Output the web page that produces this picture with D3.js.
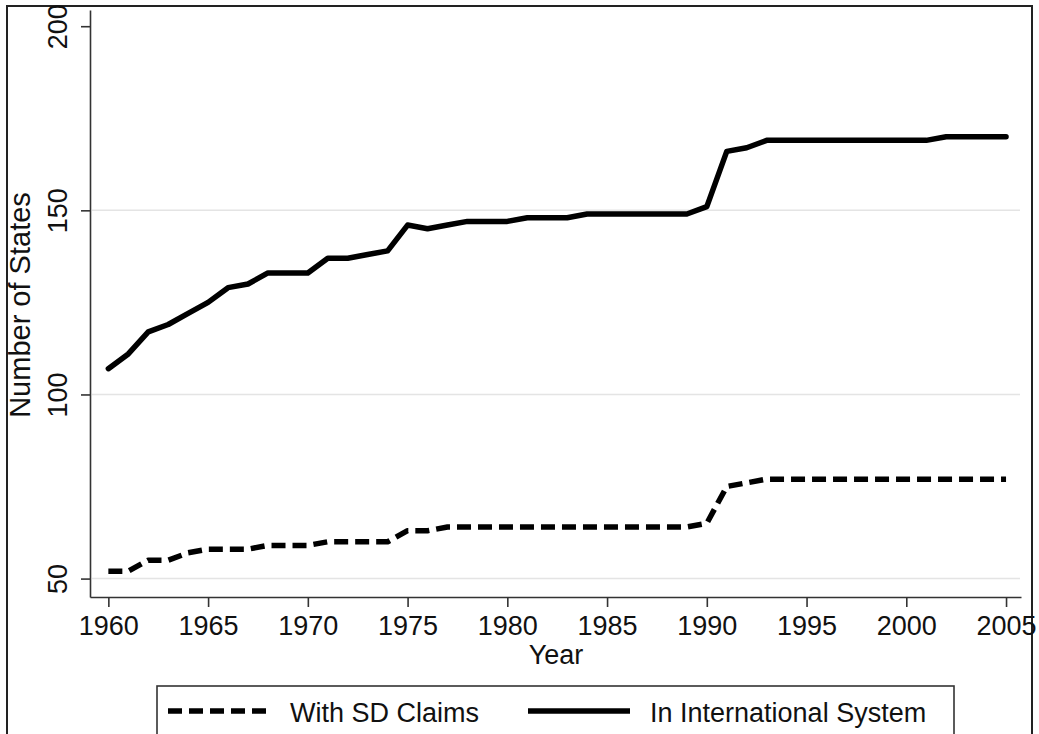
<!DOCTYPE html>
<html>
<head>
<meta charset="utf-8">
<script src="https://cdn.jsdelivr.net/npm/d3@7"></script>
<style>
  html, body { margin: 0; padding: 0; background: #fff; }
  svg { display: block; }
  text { font-family: "Liberation Sans", Arial, Helvetica, sans-serif; fill: #111; }
</style>
</head>
<body>
<svg id="chart" width="1039" height="734"></svg>
<script>
// ---- data ----
const years = d3.range(1960, 2006);
const inSystem = [107,111,117,119,122,125,129,130,133,133,
                  133,137,137,138,139,146,145,146,147,147,
                  147,148,148,148,149,149,149,149,149,149,
                  151,166,167,169,169,169,169,169,169,169,
                  169,169,170,170,170,170];
const withSD = [52,52,55,55,57,58,58,58,59,59,
                59,60,60,60,60,63,63,64,64,64,
                64,64,64,64,64,64,64,64,64,64,
                65,75,76,77,77,77,77,77,77,77,
                77,77,77,77,77,77];
const xTicks = [1960,1965,1970,1975,1980,1985,1990,1995,2000,2005];
const yTicks = [50,100,150,200];
const gridValues = [50,100,150];
const seriesNames = ["With SD Claims", "In International System"];
const xTitle = "Year";
const yTitle = "Number of States";

// ---- layout ----
const svg = d3.select("#chart");
const pLeft = 90, pRight = 1021, pTop = 10, pBottom = 597;
const fs = 27;

const x = d3.scaleLinear().domain([1959.08, 2005.75]).range([pLeft, pRight]);
const y = d3.scaleLinear().domain([45, 204.4]).range([pBottom, pTop]);

// outer frame
svg.append("rect")
  .attr("x", 7).attr("y", 6).attr("width", 1025).attr("height", 760)
  .attr("fill", "#fff").attr("stroke", "#222").attr("stroke-width", 2);

// gridlines
svg.append("g").selectAll("line").data(gridValues).join("line")
  .attr("x1", pLeft + 2).attr("x2", pRight - 1)
  .attr("y1", d => y(d)).attr("y2", d => y(d))
  .attr("stroke", "#e4e4e4").attr("stroke-width", 1.5);

// axes
const xAxis = d3.axisBottom(x).tickValues(xTicks).tickFormat(d3.format("d"))
  .tickSizeInner(10).tickSizeOuter(0).tickPadding(10);
const gx = svg.append("g").attr("transform", `translate(0,${pBottom})`).call(xAxis);
gx.select(".domain").attr("stroke", "#333").attr("stroke-width", 1.6);
gx.selectAll(".tick line").attr("stroke", "#333").attr("stroke-width", 1.6);
gx.selectAll(".tick text")
  .attr("font-size", fs).attr("font-family", "Liberation Sans, Arial, sans-serif")
  .attr("fill", "#111").attr("dy", null).attr("y", 38);

const yAxis = d3.axisLeft(y).tickValues(yTicks).tickFormat(d3.format("d"))
  .tickSizeInner(9).tickSizeOuter(0);
const gy = svg.append("g").attr("transform", `translate(${pLeft},0)`).call(yAxis);
gy.select(".domain").attr("stroke", "#333").attr("stroke-width", 1.6);
gy.selectAll(".tick line").attr("stroke", "#333").attr("stroke-width", 1.6);
gy.selectAll(".tick text")
  .attr("font-size", fs).attr("font-family", "Liberation Sans, Arial, sans-serif")
  .attr("fill", "#111")
  .attr("x", null).attr("dy", null)
  .attr("text-anchor", "middle")
  .attr("transform", "translate(-23,0) rotate(-90)");

// axis titles
svg.append("text")
  .attr("x", 556).attr("y", 664)
  .attr("text-anchor", "middle").attr("font-size", fs)
  .text(xTitle);
svg.append("text")
  .attr("transform", `translate(30,305) rotate(-90)`)
  .attr("text-anchor", "middle").attr("font-size", 29)
  .text(yTitle);

// lines
const line = d3.line().x((d, i) => x(years[i])).y(d => y(d));
svg.append("path").datum(withSD)
  .attr("d", line).attr("fill", "none").attr("stroke", "#000")
  .attr("stroke-width", 5.5).attr("stroke-dasharray", "14,7")
  .attr("stroke-linejoin", "round");
svg.append("path").datum(inSystem)
  .attr("d", line).attr("fill", "none").attr("stroke", "#000")
  .attr("stroke-width", 5.5).attr("stroke-linejoin", "round").attr("stroke-linecap", "round");

// legend
const lg = svg.append("g");
lg.append("rect").attr("x", 157).attr("y", 686).attr("width", 797).attr("height", 80)
  .attr("fill", "#fff").attr("stroke", "#333").attr("stroke-width", 1.6);
lg.append("line").attr("x1", 168).attr("x2", 268).attr("y1", 711).attr("y2", 711)
  .attr("stroke", "#000").attr("stroke-width", 5.5).attr("stroke-dasharray", "14,7");
lg.append("text").attr("x", 290).attr("y", 722).attr("font-size", fs).text(seriesNames[0]);
lg.append("line").attr("x1", 528).attr("x2", 630).attr("y1", 711).attr("y2", 711)
  .attr("stroke", "#000").attr("stroke-width", 5.5);
lg.append("text").attr("x", 650).attr("y", 722).attr("font-size", fs).text(seriesNames[1]);
</script>
</body>
</html>
